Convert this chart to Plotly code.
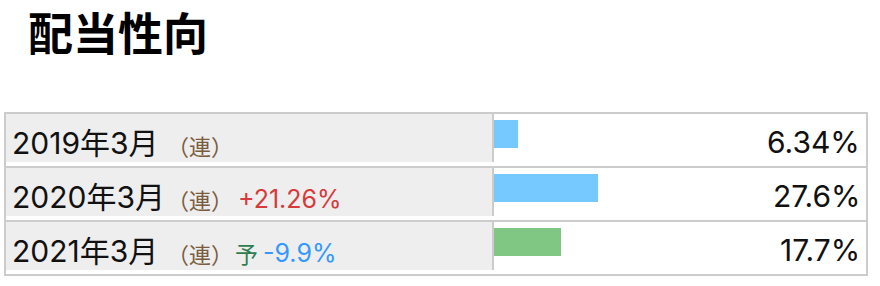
import plotly.graph_objects as go

# ---- data ----
periods = ["2019年3月", "2020年3月", "2021年3月"]
tags = ["（連）", "（連）", "（連）"]
changes = ["", "+21.26%", "-9.9%"]
forecast = [False, False, True]
values = [6.34, 27.6, 17.7]
value_labels = ["6.34%", "27.6%", "17.7%"]
title = "配当性向"

# ---- layout constants (pixels) ----
W, H = 880, 286
BAR_X0 = 494          # pixel where value 0 sits
PX_PER_UNIT = 3.77
ROW_STRIDE = 54
BAR_CY0 = 134         # centre of first bar
BAR_H = 28
TOP = 113
BOTTOM = 275
LEFT = 5
RIGHT = 867

BLUE = "#76c9fe"
GREEN = "#81c784"
GRAY_BG = "#eeeeee"
BORDER = "#cccccc"
CJK = "Inter, 'Noto Sans CJK JP', sans-serif"
CJK_ONLY = "'Noto Sans CJK JP', sans-serif"


def px(x):
    return x / W


def py(y):
    return 1 - y / H


bar_colors = [GREEN if f else BLUE for f in forecast]

fig = go.Figure()
fig.add_trace(go.Bar(
    x=values, y=periods, orientation="h", base=0,
    marker=dict(color=bar_colors, line=dict(width=0)),
    width=BAR_H / ROW_STRIDE, hoverinfo="skip",
))

shapes = []
# outer frame
shapes.append(dict(type="rect", xref="paper", yref="paper",
                   x0=px(LEFT), x1=px(RIGHT), y0=py(TOP), y1=py(BOTTOM),
                   line=dict(color=BORDER, width=2), layer="below"))
annotations = []
n = len(periods)
for i in range(n):
    row_top = TOP + 1 + ROW_STRIDE * i
    gray_bottom = row_top + 48
    # gray label cell
    shapes.append(dict(type="rect", xref="paper", yref="paper",
                       x0=px(6), x1=px(492), y0=py(row_top), y1=py(gray_bottom),
                       fillcolor=GRAY_BG, line=dict(width=0), layer="below"))
    # divider
    shapes.append(dict(type="line", xref="paper", yref="paper",
                       x0=px(493), x1=px(493), y0=py(row_top), y1=py(gray_bottom),
                       line=dict(color=BORDER, width=2), layer="below"))
    if i > 0:
        sep = TOP + ROW_STRIDE * i
        shapes.append(dict(type="line", xref="paper", yref="paper",
                           x0=px(LEFT), x1=px(RIGHT), y0=py(sep), y1=py(sep),
                           line=dict(color=BORDER, width=2), layer="below"))

    cy = 143 + ROW_STRIDE * i
    annotations.append(dict(xref="paper", yref="paper", x=px(10), y=py(cy),
                            xanchor="left", yanchor="middle", showarrow=False,
                            text=periods[i], font=dict(family=CJK, size=30, color="#111111")))
    annotations.append(dict(xref="paper", yref="paper", x=px(165), y=py(cy + 2),
                            xanchor="left", yanchor="middle", showarrow=False,
                            text=tags[i], font=dict(family=CJK_ONLY, size=22, color="#7a5c3e")))
    xc = 236
    if forecast[i]:
        annotations.append(dict(xref="paper", yref="paper", x=px(233), y=py(cy + 2),
                                xanchor="left", yanchor="middle", showarrow=False,
                                text="予", font=dict(family=CJK_ONLY, size=23, color="#2e7d4f")))
        xc = 261
    if changes[i]:
        col = "#d63a3a" if changes[i].startswith("+") else "#3399ff"
        annotations.append(dict(xref="paper", yref="paper", x=px(xc), y=py(cy + 2),
                                xanchor="left", yanchor="middle", showarrow=False,
                                text=changes[i], font=dict(family=CJK, size=25, color=col)))
    annotations.append(dict(xref="paper", yref="paper", x=px(862), y=py(cy - 1),
                            xanchor="right", yanchor="middle", showarrow=False,
                            text=value_labels[i], font=dict(family=CJK, size=30, color="#111111")))

annotations.append(dict(xref="paper", yref="paper", x=px(26), y=py(32),
                        xanchor="left", yanchor="middle", showarrow=False,
                        text="<b>" + title + "</b>",
                        font=dict(family=CJK_ONLY, size=45, color="#000000")))

fig.update_layout(
    width=W, height=H,
    margin=dict(l=0, r=0, t=0, b=0),
    paper_bgcolor="white", plot_bgcolor="rgba(0,0,0,0)",
    showlegend=False,
    shapes=shapes, annotations=annotations,
    xaxis=dict(range=[-BAR_X0 / PX_PER_UNIT, (W - BAR_X0) / PX_PER_UNIT],
               visible=False, fixedrange=True),
    yaxis=dict(type="category", categoryorder="array", categoryarray=periods,
               range=[(H - BAR_CY0) / ROW_STRIDE, -BAR_CY0 / ROW_STRIDE],
               visible=False, fixedrange=True),
    bargap=0,
)

fig.write_html("out.html")
